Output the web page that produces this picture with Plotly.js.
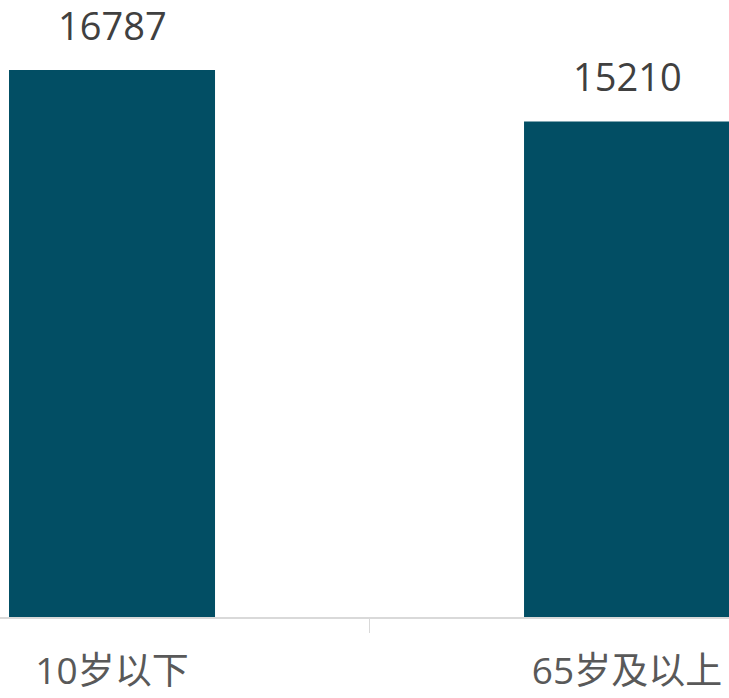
<!DOCTYPE html>
<html><head><meta charset="utf-8">
<script src="https://cdn.plot.ly/plotly-3.0.1.min.js"></script>
<style>html,body{margin:0;padding:0;background:#fff}#chart{width:729px;height:698px}</style>
</head><body><div id="chart"></div>
<script>
const categories = ["10岁以下", "65岁及以上"];
const values = [16787, 15210];

const trace = {
  type: "bar",
  x: categories,
  y: values,
  width: 0.4,
  marker: {color: "#024e64"},
  cliponaxis: false,
  hoverinfo: "none"
};

const annotations = categories.map((c, i) => ({
  x: c, y: values[i], xref: "x", yref: "y",
  text: String(values[i]),
  showarrow: false,
  yanchor: "bottom",
  yshift: 17,
  font: {family: "Open Sans, Noto Sans CJK SC, sans-serif", size: 38, color: "#404040"}
}));

const layout = {
  width: 729, height: 698,
  margin: {l: 0, r: 0, t: 0, b: 81, pad: 0},
  paper_bgcolor: "#fff", plot_bgcolor: "#fff",
  showlegend: false,
  bargap: 0.6,
  annotations: annotations,
  xaxis: {
    type: "category",
    range: [-0.2175, 1.198],
    showline: true, linecolor: "#d9d9d9", linewidth: 1.5,
    tickson: "boundaries", ticks: "outside", ticklen: 14, tickcolor: "#d9d9d9", tickwidth: 1.5,
    tickfont: {family: "Open Sans, Noto Sans CJK SC, sans-serif", size: 37, color: "#595959"},
    ticklabelstandoff: 21,
    showgrid: false, zeroline: false
  },
  yaxis: {
    range: [0, 18935],
    visible: false, showgrid: false, zeroline: false
  }
};

Plotly.newPlot("chart", [trace], layout, {staticPlot: true, displayModeBar: false});
</script></body></html>
